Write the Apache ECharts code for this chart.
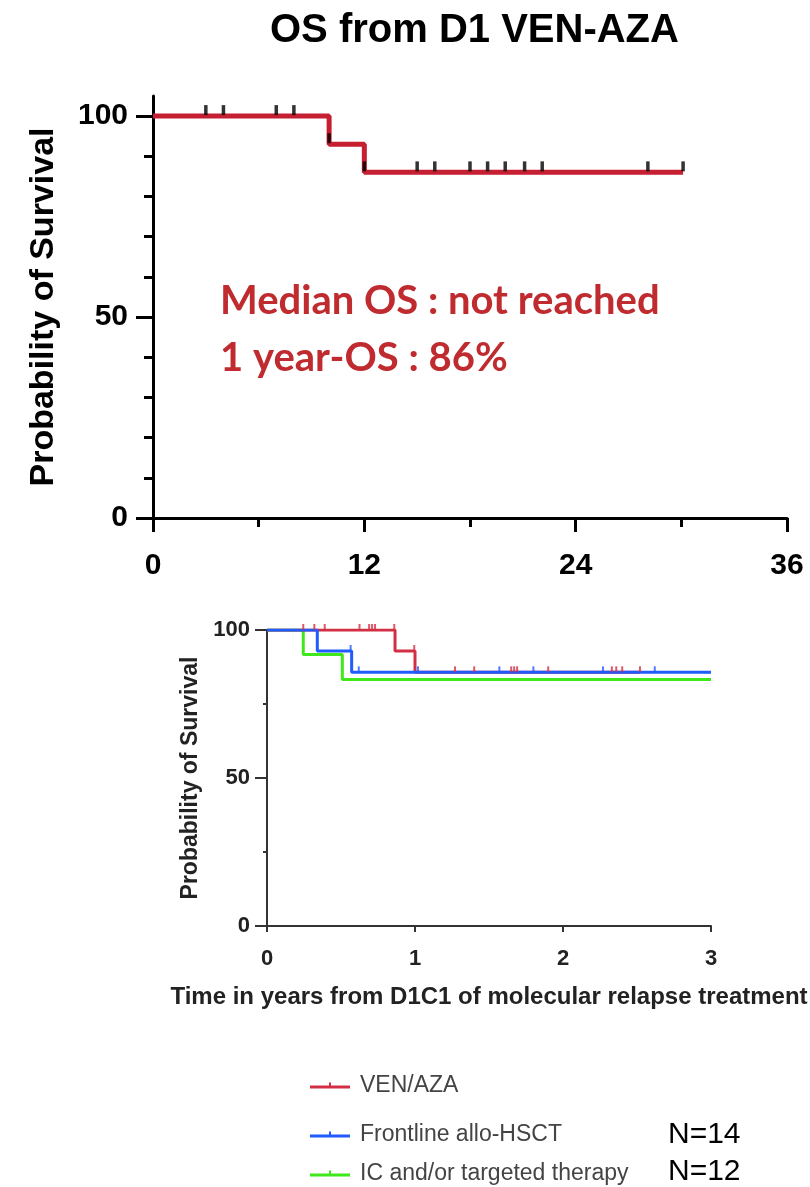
<!DOCTYPE html>
<html>
<head>
<meta charset="utf-8">
<script src="https://cdn.jsdelivr.net/npm/echarts@6/dist/echarts.min.js"></script>
<style>
  html, body { margin: 0; padding: 0; background: #ffffff; }
  #chart { width: 810px; height: 1187px; }
</style>
</head>
<body>
<div id="chart"></div>
<script>
// ---- Upper panel: overall survival from D1 of VEN-AZA (months) ----
const osMonths = [0, 10, 12, 30.1];
const osSurvival = [100, 93, 86, 86];
const osCensorMonths = [3, 4, 7, 8, 10, 12, 15, 16, 18, 19, 20, 21.1, 22.1, 28.1, 30.1];
const osXTicks = [0, 12, 24, 36];
const osYLabels = [0, 50, 100];
const osYMinor = [0, 10, 20, 30, 40, 50, 60, 70, 80, 90, 100];
const osNotes = ['Median OS : not reached', '1 year-OS : 86%'];

// ---- Lower panel: survival by treatment arm (years from D1C1) ----
const armNames = ['VEN/AZA', 'Frontline allo-HSCT', 'IC and/or targeted therapy'];
const armCounts = ['', 'N=14', 'N=12'];
const venYears = [0, 0.865, 1.0, 2.52];
const venSurv = [100, 92.9, 85.7, 85.7];
const venCensorYears = [0.245, 0.32, 0.39, 0.625, 0.69, 0.71, 0.73, 0.86, 0.995, 1.27, 1.40, 1.65, 1.67, 1.69, 1.90, 2.33, 2.36, 2.40, 2.52];
const hsctYears = [0, 0.34, 0.572, 3.0];
const hsctSurv = [100, 92.9, 85.7, 85.7];
const hsctCensorYears = [0.565, 0.62, 1.02, 1.57, 1.80, 2.27, 2.62];
const icYears = [0, 0.245, 0.509, 3.0];
const icSurv = [100, 91.7, 83.3, 83.3];
const lowerXTicks = [0, 1, 2, 3];
const lowerYLabels = [0, 50, 100];

const colors = { os: '#C61F32', ven: '#D22F45', hsct: '#1F5BFF', ic: '#3EE81A' };
const FONT = '"Liberation Sans", Arial, sans-serif';
const NOTE_FONT = 'Lato, "Open Sans", sans-serif';

// survival level of a step curve at time t
function levelAt(times, surv, t) {
  let v = surv[0];
  for (let i = 0; i < times.length; i++) if (times[i] <= t) v = surv[i];
  return v;
}
const pairs = (xs, ys) => xs.map((x, i) => [x, ys[i]]);
const censorPoints = (cts, times, surv) => cts.map(t => [t, levelAt(times, surv, t)]);

const chart = echarts.init(document.getElementById('chart'), null, { renderer: 'canvas' });

const option = {
  backgroundColor: '#ffffff',
  animation: false,
  title: {
    text: 'OS from D1 VEN-AZA',
    left: 265, top: 6,
    textStyle: { fontFamily: FONT, fontWeight: 'bold', fontSize: 40, color: '#000' }
  },
  grid: [
    { left: 153, right: 23, top: 96, height: 422 },
    { left: 267, right: 99, top: 630, height: 296 }
  ],
  xAxis: [
    {
      gridIndex: 0, type: 'value', min: 0, max: 36, interval: 12,
      axisLine: { lineStyle: { color: '#000', width: 3 } },
      axisTick: { length: 14, lineStyle: { color: '#000', width: 3 } },
      minorTick: { show: true, splitNumber: 2, length: 9, lineStyle: { color: '#000', width: 3 } },
      axisLabel: { margin: 33, fontFamily: FONT, fontWeight: 'bold', fontSize: 30, color: '#000' },
      splitLine: { show: false }
    },
    {
      gridIndex: 1, type: 'value', min: 0, max: 3, interval: 1,
      name: 'Time in years from D1C1 of molecular relapse treatment',
      nameLocation: 'middle', nameGap: 59,
      nameTextStyle: { fontFamily: FONT, fontWeight: 'bold', fontSize: 24, color: '#222' },
      axisLine: { lineStyle: { color: '#333', width: 2 } },
      axisTick: { length: 6, lineStyle: { color: '#333', width: 2 } },
      axisLabel: { margin: 22, fontFamily: FONT, fontWeight: 'bold', fontSize: 22, color: '#222' },
      splitLine: { show: false }
    }
  ],
  yAxis: [
    {
      gridIndex: 0, type: 'value', min: 0, max: 105, position: 'left',
      name: 'Probability of Survival', nameLocation: 'middle', nameGap: 92,
      nameTextStyle: { fontFamily: FONT, fontWeight: 'bold', fontSize: 34, color: '#000' },
      axisLine: { lineStyle: { color: '#000', width: 3 } },
      axisTick: { customValues: osYMinor, length: 9, lineStyle: { color: '#000', width: 3 } },
      axisLabel: { customValues: osYLabels, margin: 25, fontFamily: FONT, fontWeight: 'bold', fontSize: 30, color: '#000' },
      splitLine: { show: false }
    },
    {
      gridIndex: 0, type: 'value', min: 0, max: 105, position: 'left', offset: 0,
      axisLine: { show: false },
      axisTick: { customValues: osYLabels, length: 17, lineStyle: { color: '#000', width: 3 } },
      axisLabel: { show: false },
      splitLine: { show: false }
    },
    {
      gridIndex: 1, type: 'value', min: 0, max: 100, interval: 50,
      name: 'Probability of Survival', nameLocation: 'middle', nameGap: 64,
      nameTextStyle: { fontFamily: FONT, fontWeight: 'bold', fontSize: 23, color: '#222' },
      axisLine: { lineStyle: { color: '#333', width: 2 } },
      axisTick: { length: 12, lineStyle: { color: '#333', width: 2 } },
      minorTick: { show: true, splitNumber: 2, length: 4, lineStyle: { color: '#333', width: 2 } },
      axisLabel: { margin: 17, fontFamily: FONT, fontWeight: 'bold', fontSize: 22, color: '#222' },
      splitLine: { show: false }
    }
  ],
  legend: armNames.map((name, i) => ({
    data: [name],
    left: 305, top: [1069, 1118, 1157][i],
    orient: 'vertical',
    itemWidth: 40, itemHeight: 8,
    icon: 'path://M0,5H40V8H0Z M19,2H21V5H19Z',
    textStyle: { fontFamily: FONT, fontSize: 23, color: '#444', padding: [0, 0, 0, 5] },
    selectedMode: false
  })),
  graphic: [
    {
      type: 'text', left: 220, top: 281,
      style: { text: osNotes[0], fontFamily: NOTE_FONT, fontWeight: 'bold', fontSize: 40, fill: '#BF2B2E' }
    },
    {
      type: 'text', left: 220, top: 338,
      style: { text: osNotes[1], fontFamily: NOTE_FONT, fontWeight: 'bold', fontSize: 40, fill: '#BF2B2E' }
    },
    {
      type: 'text', left: 668, top: 1120,
      style: { text: armCounts[1], fontFamily: FONT, fontSize: 30, fill: '#000' }
    },
    {
      type: 'text', left: 668, top: 1157,
      style: { text: armCounts[2], fontFamily: FONT, fontSize: 30, fill: '#000' }
    }
  ],
  series: [
    {
      name: 'OS', type: 'line', xAxisIndex: 0, yAxisIndex: 0, step: 'end',
      data: pairs(osMonths, osSurvival), showSymbol: false,
      lineStyle: { color: colors.os, width: 5 }, z: 3
    },
    {
      name: 'OS censored', type: 'scatter', xAxisIndex: 0, yAxisIndex: 0,
      data: censorPoints(osCensorMonths, osMonths, osSurvival),
      symbol: 'rect', symbolSize: [3.5, 10], symbolOffset: [0, -6],
      itemStyle: { color: '#000' }, z: 4
    },
    {
      name: armNames[2], type: 'line', xAxisIndex: 1, yAxisIndex: 2, step: 'end',
      data: pairs(icYears, icSurv), showSymbol: false,
      color: colors.ic, lineStyle: { color: colors.ic, width: 3 }, z: 3
    },
    {
      name: armNames[0], type: 'line', xAxisIndex: 1, yAxisIndex: 2, step: 'end',
      data: pairs(venYears, venSurv), showSymbol: false,
      color: colors.ven, lineStyle: { color: colors.ven, width: 3 }, z: 4
    },
    {
      name: armNames[1], type: 'line', xAxisIndex: 1, yAxisIndex: 2, step: 'end',
      data: pairs(hsctYears, hsctSurv), showSymbol: false,
      color: colors.hsct, lineStyle: { color: colors.hsct, width: 3 }, z: 5
    },
    {
      name: 'VEN/AZA censored', type: 'scatter', xAxisIndex: 1, yAxisIndex: 2,
      data: censorPoints(venCensorYears, venYears, venSurv),
      symbol: 'rect', symbolSize: [2, 6], symbolOffset: [0, -3],
      itemStyle: { color: colors.ven }, z: 6
    },
    {
      name: 'Frontline allo-HSCT censored', type: 'scatter', xAxisIndex: 1, yAxisIndex: 2,
      data: censorPoints(hsctCensorYears, hsctYears, hsctSurv),
      symbol: 'rect', symbolSize: [2, 6], symbolOffset: [0, -3],
      itemStyle: { color: colors.hsct }, z: 6
    }
  ]
};

chart.setOption(option);
</script>
</body>
</html>
